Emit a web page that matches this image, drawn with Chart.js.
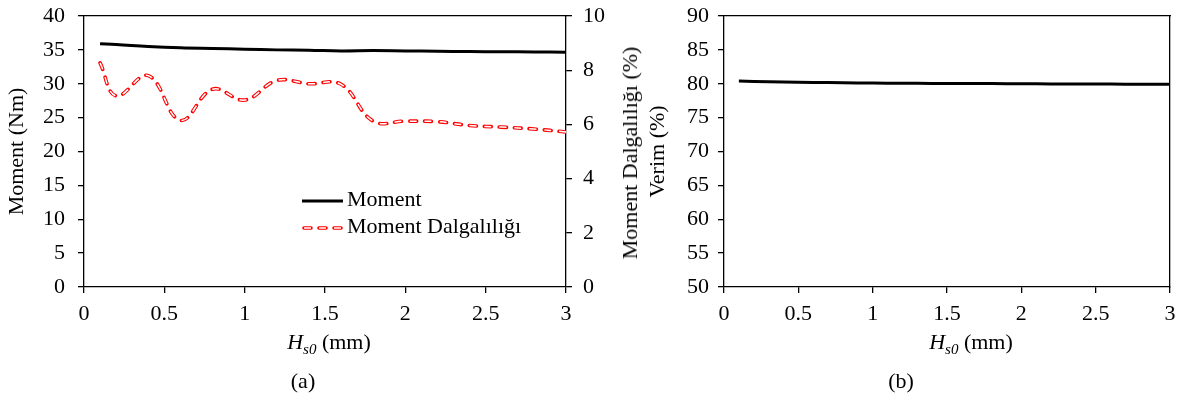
<!DOCTYPE html>
<html>
<head>
<meta charset="utf-8">
<script src="https://cdn.jsdelivr.net/npm/chart.js@4.4.1/dist/chart.umd.min.js"></script>
<style>
body { margin: 0; background: #fff; font-family: "Liberation Serif", "Times New Roman", serif; }
#wrap { position: relative; width: 1183px; height: 401px; overflow: hidden; background: #fff; }
canvas { position: absolute; top: 0; }
.t { position: absolute; font-size: 22px; color: #000; white-space: nowrap; line-height: 1; }
.leg { position: absolute; font-size: 22px; color: #000; white-space: nowrap; line-height: 1; }
.leg svg { vertical-align: middle; margin-right: 3px; }
</style>
</head>
<body>
<div id="wrap">
  <canvas id="chartA" width="650" height="330" style="left:0px"></canvas>
  <canvas id="chartB" width="543" height="330" style="left:640px"></canvas>

  <div class="leg" style="left:301px; top:188px;">
    <svg width="43" height="10"><line x1="1" y1="5" x2="42" y2="5" stroke="#000" stroke-width="3"/></svg>Moment
  </div>
  <div class="leg" style="left:301px; top:215px;">
    <svg width="43" height="10">
      <line x1="3" y1="5" x2="42" y2="5" stroke="#ff0000" stroke-width="3.6" stroke-dasharray="7 8" stroke-linecap="round"/>
      <line x1="3" y1="5" x2="42" y2="5" stroke="#fff" stroke-width="1.5" stroke-dasharray="7 8"/>
    </svg>Moment Dalgalılığı
  </div>

  <div class="t" style="left:630px; top:153px; transform: translate(-50%,-50%) rotate(-90deg);">Moment Dalgalılığı (%)</div>

  <div class="t" style="left:329px; top:331px; transform: translateX(-50%);"><i>H<sub style="font-size:15px">s0</sub></i> (mm)</div>
  <div class="t" style="left:971px; top:331px; transform: translateX(-50%);"><i>H<sub style="font-size:15px">s0</sub></i> (mm)</div>
  <div class="t" style="left:303px; top:370px; transform: translateX(-50%);">(a)</div>
  <div class="t" style="left:901px; top:370px; transform: translateX(-50%);">(b)</div>
</div>

<script>
var hs0 = [0.1, 0.2, 0.4, 0.6, 0.8, 1.0, 1.2, 1.4, 1.6, 1.8, 2.0, 2.2, 2.4, 2.6, 2.8, 3.0];
var moment = [35.9, 35.8, 35.5, 35.3, 35.2, 35.1, 35.0, 34.95, 34.85, 34.9, 34.85, 34.8, 34.75, 34.72, 34.7, 34.65];
var ripple = [8.27, 7.05, 7.8, 6.15, 7.3, 6.9, 7.62, 7.5, 7.48, 6.12, 6.12, 6.1, 5.96, 5.9, 5.83, 5.72];
var efficiency = [80.4, 80.35, 80.25, 80.2, 80.15, 80.1, 80.08, 80.05, 80.03, 80.02, 80.0, 79.98, 79.97, 79.95, 79.93, 79.92];

var xTicks = [0, 0.5, 1, 1.5, 2, 2.5, 3];

var tickFont = { family: "Liberation Serif", size: 22 };

function pts(ys) {
    return hs0.map(function (x, i) { return { x: x, y: ys[i] }; });
}

function plain(v) { return String(v); }

function fixWidth(w) {
    return function (scale) {
        scale.width = w;
        scale.paddingTop = 0;
        scale.paddingBottom = 0;
    };
}
function fixHeight(h) {
    return function (scale) {
        scale.height = h;
        scale.paddingLeft = 0;
        scale.paddingRight = 0;
    };
}

function xAxis() {
    return {
        type: 'linear', position: 'bottom', min: 0, max: 3,
        afterBuildTicks: function (s) { s.ticks = xTicks.map(function (v) { return { value: v }; }); },
        ticks: { color: '#000', font: tickFont, padding: 8, maxRotation: 0, callback: plain },
        grid: { drawOnChartArea: false, drawTicks: true, tickLength: 6, color: '#000', lineWidth: 1.3 },
        border: { color: '#000', width: 1.3 },
        afterFit: fixHeight(43)
    };
}
function topAxis() {
    return {
        type: 'linear', position: 'top', min: 0, max: 3,
        ticks: { display: false },
        grid: { drawOnChartArea: false, drawTicks: false },
        border: { color: '#000', width: 1.3 },
        afterFit: fixHeight(0)
    };
}

Chart.defaults.font.family = "Liberation Serif";
Chart.defaults.color = '#000';

new Chart(document.getElementById('chartA').getContext('2d'), {
    type: 'line',
    data: {
        datasets: [{
            label: 'Moment',
            data: pts(moment),
            borderColor: '#000',
            borderWidth: 3,
            pointRadius: 0,
            tension: 0.4,
            yAxisID: 'y',
            order: 2
        }, {
            label: 'Moment Dalgalılığı inner',
            data: pts(ripple),
            borderColor: '#fff',
            borderWidth: 1.5,
            borderDash: [7, 8],
            borderCapStyle: 'butt',
            pointRadius: 0,
            tension: 0.4,
            yAxisID: 'y1',
            order: 0
        }, {
            label: 'Moment Dalgalılığı',
            data: pts(ripple),
            borderColor: '#ff0000',
            borderWidth: 3.6,
            borderDash: [7, 8],
            borderCapStyle: 'round',
            pointRadius: 0,
            tension: 0.4,
            yAxisID: 'y1',
            order: 1
        }]
    },
    options: {
        responsive: false,
        animation: false,
        layout: { padding: { top: 16, left: 0, right: 0, bottom: 0 } },
        plugins: { legend: { display: false }, tooltip: { enabled: false } },
        scales: {
            x: xAxis(),
            xt: topAxis(),
            y: {
                position: 'left', min: 0, max: 40,
                ticks: { stepSize: 5, color: '#000', font: tickFont, padding: 13, callback: plain },
                grid: { drawOnChartArea: false, drawTicks: true, tickLength: 6, color: '#000', lineWidth: 1.3 },
                border: { color: '#000', width: 1.3 },
                title: { display: true, text: 'Moment (Nm)', color: '#000', font: tickFont, padding: { top: 4, bottom: 0 } },
                afterFit: fixWidth(84)
            },
            y1: {
                position: 'right', min: 0, max: 10,
                ticks: { stepSize: 2, color: '#000', font: tickFont, padding: 11, callback: plain },
                grid: { drawOnChartArea: false, drawTicks: true, tickLength: 6, color: '#000', lineWidth: 1.3 },
                border: { color: '#000', width: 1.3 },
                afterFit: fixWidth(84)
            }
        }
    }
});

new Chart(document.getElementById('chartB').getContext('2d'), {
    type: 'line',
    data: {
        datasets: [{
            label: 'Verim',
            data: pts(efficiency),
            borderColor: '#000',
            borderWidth: 3,
            pointRadius: 0,
            tension: 0.4
        }]
    },
    options: {
        responsive: false,
        animation: false,
        layout: { padding: { top: 16, left: 0, right: 13, bottom: 0 } },
        plugins: { legend: { display: false }, tooltip: { enabled: false } },
        scales: {
            x: xAxis(),
            xt: topAxis(),
            y: {
                position: 'left', min: 50, max: 90,
                ticks: { stepSize: 5, color: '#000', font: tickFont, padding: 9, callback: plain },
                grid: { drawOnChartArea: false, drawTicks: true, tickLength: 6, color: '#000', lineWidth: 1.3 },
                border: { color: '#000', width: 1.3 },
                title: { display: true, text: 'Verim (%)', color: '#000', font: tickFont, padding: { top: 5, bottom: 0 } },
                afterFit: fixWidth(84)
            },
            yr: {
                position: 'right', min: 50, max: 90,
                ticks: { display: false },
                grid: { drawOnChartArea: false, drawTicks: false },
                border: { color: '#000', width: 1.3 },
                afterFit: fixWidth(0)
            }
        }
    }
});
</script>
</body>
</html>
